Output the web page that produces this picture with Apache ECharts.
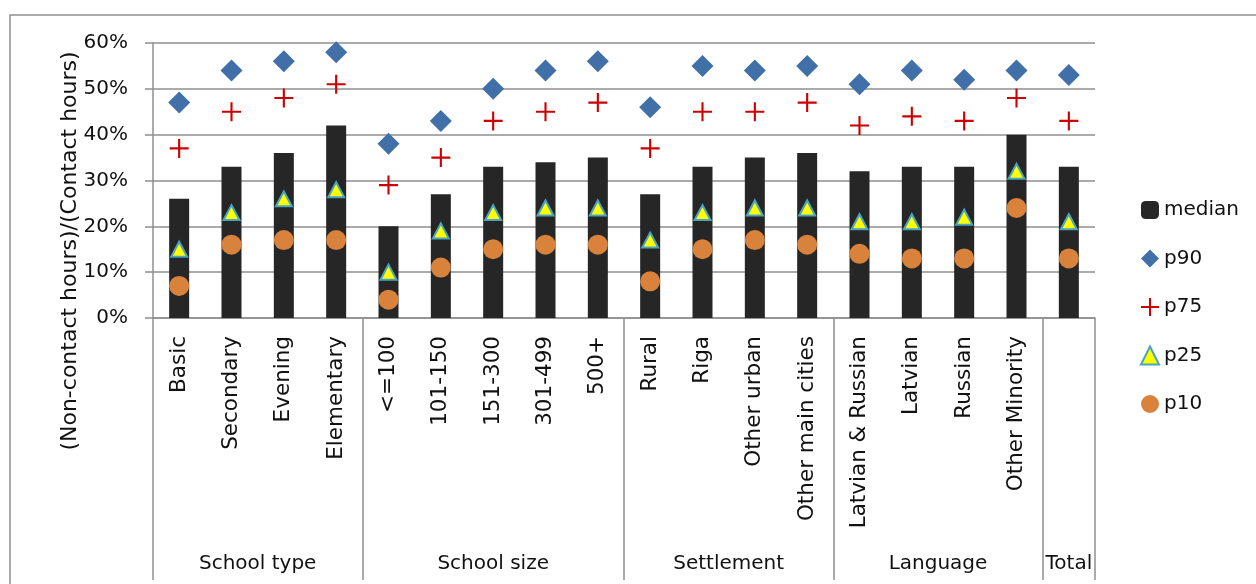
<!DOCTYPE html>
<html>
<head>
<meta charset="utf-8">
<script src="https://cdn.jsdelivr.net/npm/echarts@6/dist/echarts.min.js"></script>
<style>
  html, body { margin: 0; padding: 0; background: #fff; }
  #chart { width: 1256px; height: 584px; }
</style>
</head>
<body>
<div id="chart"></div>
<script>
// Ratio of non-contact to contact hours by school group (percent)
const categories = ['Basic', 'Secondary', 'Evening', 'Elementary',
  '<=100', '101-150', '151-300', '301-499', '500+',
  'Rural', 'Riga', 'Other urban', 'Other main cities',
  'Latvian & Russian', 'Latvian', 'Russian', 'Other Minority', 'Total'];

const groupNames = ['School type', 'School size', 'Settlement', 'Language', 'Total'];
const groupSizes = [4, 5, 4, 4, 1];

const median = [26, 33, 36, 42, 20, 27, 33, 34, 35, 27, 33, 35, 36, 32, 33, 33, 40, 33];
const p90    = [47, 54, 56, 58, 38, 43, 50, 54, 56, 46, 55, 54, 55, 51, 54, 52, 54, 53];
const p75    = [37, 45, 48, 51, 29, 35, 43, 45, 47, 37, 45, 45, 47, 42, 44, 43, 48, 43];
const p25    = [15, 23, 26, 28, 10, 19, 23, 24, 24, 17, 23, 24, 24, 21, 21, 22, 32, 21];
const p10    = [7, 16, 17, 17, 4, 11, 15, 16, 16, 8, 15, 17, 16, 14, 13, 13, 24, 13];

const yTicks = [0, 10, 20, 30, 40, 50, 60];

// group boundaries and centres along the category band (0..N)
const groupBounds = [0];
groupSizes.forEach(s => groupBounds.push(groupBounds[groupBounds.length - 1] + s));
const groupCentres = groupNames.map((_, i) => (groupBounds[i] + groupBounds[i + 1]) / 2);
// single-member groups are named only by their group label
const soloCategories = groupNames.filter((_, i) => groupSizes[i] === 1);

const FONT = '"DejaVu Sans", "Noto Sans", sans-serif';
const GRID = '#8f8f8f';
const crossPath = 'path://M8,0h2v8h8v2h-8v8h-2v-8h-8v-2h8z';

const chart = echarts.init(document.getElementById('chart'));
chart.setOption({
  animation: false,
  backgroundColor: '#fff',
  textStyle: { fontFamily: FONT, color: '#111' },
  graphic: [
    {
      type: 'rect', silent: true, z: -1,
      shape: { x: 10, y: 15, width: 1300, height: 700 },
      style: { fill: 'none', stroke: '#909090', lineWidth: 1.5 }
    },
    {
      type: 'text', silent: true,
      x: 70, y: 251, rotation: Math.PI / 2,
      style: {
        text: '(Non-contact hours)/(Contact hours)',
        font: '22px ' + FONT, fill: '#111',
        align: 'center', verticalAlign: 'middle'
      }
    }
  ],
  grid: { left: 153, right: 161, top: 43, bottom: 266, containLabel: false },
  legend: {
    orient: 'vertical', left: 1135, top: 195,
    itemWidth: 18, itemHeight: 18, itemGap: 28.5,
    textStyle: { fontFamily: FONT, fontSize: 20, color: '#111' },
    data: ['median', 'p90', 'p75', 'p25', 'p10']
  },
  xAxis: [
    {
      type: 'category', data: categories, boundaryGap: true,
      axisLine: { lineStyle: { color: GRID, width: 1.5 } },
      axisTick: { interval: 0, length: 209, lineStyle: { color: GRID, width: 1.5 } },
      axisLabel: {
        interval: 0, rotate: 90, margin: 18,
        fontFamily: FONT, fontSize: 21.5, color: '#111',
        formatter: v => (soloCategories.includes(v) ? '' : v)
      }
    },
    {
      type: 'value', min: 0, max: categories.length, position: 'bottom',
      axisLine: { show: false },
      splitLine: { show: false },
      axisTick: {
        show: true, customValues: groupBounds, length: 262,
        lineStyle: { color: GRID, width: 1.5 }
      },
      axisLabel: {
        customValues: groupCentres, margin: 236,
        fontFamily: FONT, fontSize: 20, color: '#111',
        formatter: v => groupNames[groupCentres.indexOf(v)]
      }
    }
  ],
  yAxis: {
    type: 'value', min: 0, max: 60, interval: 10,
    axisLine: { show: true, lineStyle: { color: GRID, width: 1.5 } },
    axisTick: { show: true, length: 8, lineStyle: { color: GRID, width: 1.5 } },
    splitLine: { lineStyle: { color: GRID, width: 1.5 } },
    axisLabel: {
      margin: 25, fontFamily: FONT, fontSize: 20, color: '#111',
      formatter: v => (yTicks.includes(v) ? v + '%' : '')
    }
  },
  series: [
    {
      name: 'median', type: 'bar', data: median, barWidth: 20,
      itemStyle: { color: '#262626' }
    },
    {
      name: 'p90', type: 'scatter', data: p90,
      symbol: 'diamond', symbolSize: [22, 22],
      itemStyle: { color: '#4170a8', opacity: 1 }
    },
    {
      name: 'p75', type: 'scatter', data: p75,
      symbol: crossPath, symbolSize: [19, 19],
      itemStyle: { color: '#cc0000', opacity: 1 }
    },
    {
      name: 'p25', type: 'scatter', data: p25,
      symbol: 'triangle', symbolSize: [16, 15],
      itemStyle: { color: '#ffff00', borderColor: '#4aa3c0', borderWidth: 2, opacity: 1 }
    },
    {
      name: 'p10', type: 'scatter', data: p10,
      symbol: 'circle', symbolSize: 20,
      itemStyle: { color: '#d9823b', opacity: 1 }
    }
  ]
});
</script>
</body>
</html>
